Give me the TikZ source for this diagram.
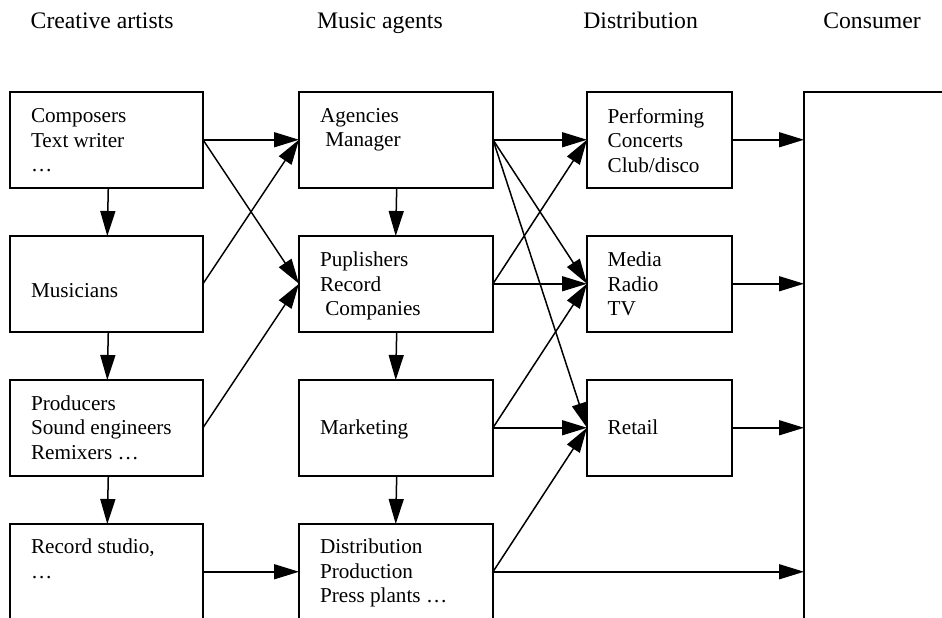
\documentclass[tikz,border=0pt]{standalone}
\usepackage{fontspec}
\setmainfont{Liberation Serif}
\usetikzlibrary{arrows.meta}
\begin{document}
\begin{tikzpicture}[x=1pt,y=-1pt,
  box/.style={draw, line width=2pt, inner sep=0pt, outer sep=0pt, anchor=north west, minimum height=95.5pt},
  wa/.style={box, minimum width=193pt},
  wb/.style={box, minimum width=194pt},
  wc/.style={box, minimum width=145pt},
  txt/.style={anchor=north west, inner sep=0pt, outer sep=0pt, align=left, font=\fontsize{21.2}{24.5}\selectfont},
  hdr/.style={anchor=base west, inner sep=0pt, outer sep=0pt, font=\fontsize{23.7}{28}\selectfont},
  conn/.style={line width=1.5pt, -{Triangle[length=25pt,width=15pt]}}
]
\clip (0,0) rectangle (942,618);

% headers
\node[hdr] (h1) at (30.7,28.5) {Creative artists};
\node[hdr] (h2) at (317,28.5) {Music agents};
\node[hdr] (h3) at (583.3,28.5) {Distribution};
\node[hdr] (h4) at (823.3,28.5) {Consumer};

% boxes
\node[wa] (ca) at (10,92) {};
\node[wa] (mu) at (10,236) {};
\node[wa] (pr) at (10,380) {};
\node[wa] (rs) at (10,524) {};
\node[wb] (ag) at (299,92) {};
\node[wb] (pu) at (299,236) {};
\node[wb] (mk) at (299,380) {};
\node[wb] (di) at (299,524) {};
\node[wc] (pe) at (587,92) {};
\node[wc] (me) at (587,236) {};
\node[wc] (re) at (587,380) {};
\node[box, minimum width=300pt, minimum height=600pt] (co) at (804,92) {};

% texts
\node[txt] (tca) at (31,108.5) {Composers\\Text writer\\…};
\node[txt] (tmu) at (31,283) {Musicians};
\node[txt] (tpr) at (31,395.5) {Producers\\Sound engineers\\Remixers …};
\node[txt] (trs) at (31,539) {Record studio,\\…};
\node[txt] (tag) at (320,108) {Agencies\\\hspace*{0.25em}Manager};
\node[txt] (tpu) at (320,252) {Puplishers\\Record\\\hspace*{0.25em}Companies};
\node[txt] (tmk) at (320,420) {Marketing};
\node[txt] (tdi) at (320,539) {Distribution\\Production\\Press plants …};
\node[txt] (tpe) at (607.7,108.5) {Performing\\Concerts\\Club/disco};
\node[txt] (tme) at (607.7,252) {Media\\Radio\\TV};
\node[txt] (tre) at (607.7,420) {Retail};

% vertical connectors
\draw[conn] ([xshift=1.8pt]ca.south) -- ([xshift=0.8pt]mu.north);
\draw[conn] ([xshift=1.8pt]mu.south) -- ([xshift=0.8pt]pr.north);
\draw[conn] ([xshift=1.8pt]pr.south) -- ([xshift=0.8pt]rs.north);
\draw[conn] ([xshift=0.7pt]ag.south) -- ([xshift=-0.3pt]pu.north);
\draw[conn] ([xshift=0.7pt]pu.south) -- ([xshift=-0.3pt]mk.north);
\draw[conn] ([xshift=0.7pt]mk.south) -- ([xshift=-0.3pt]di.north);

% creative artists -> music agents
\draw[conn] (ca.east) -- (ag.west);
\draw[conn] (ca.east) -- (pu.west);
\draw[conn] (mu.east) -- (ag.west);
\draw[conn] (pr.east) -- (pu.west);
\draw[conn] (rs.east) -- (di.west);

% music agents -> distribution
\draw[conn] (ag.east) -- (pe.west);
\draw[conn] (ag.east) -- (me.west);
\draw[conn] (ag.east) -- (re.west);
\draw[conn] (pu.east) -- (pe.west);
\draw[conn] (pu.east) -- (me.west);
\draw[conn] (mk.east) -- (me.west);
\draw[conn] (mk.east) -- (re.west);
\draw[conn] (di.east) -- (re.west);
\draw[conn] (di.east) -- (di.east -| co.west);

% distribution -> consumer
\draw[conn] (pe.east) -- (pe.east -| co.west);
\draw[conn] (me.east) -- (me.east -| co.west);
\draw[conn] (re.east) -- (re.east -| co.west);
\end{tikzpicture}
\end{document}
